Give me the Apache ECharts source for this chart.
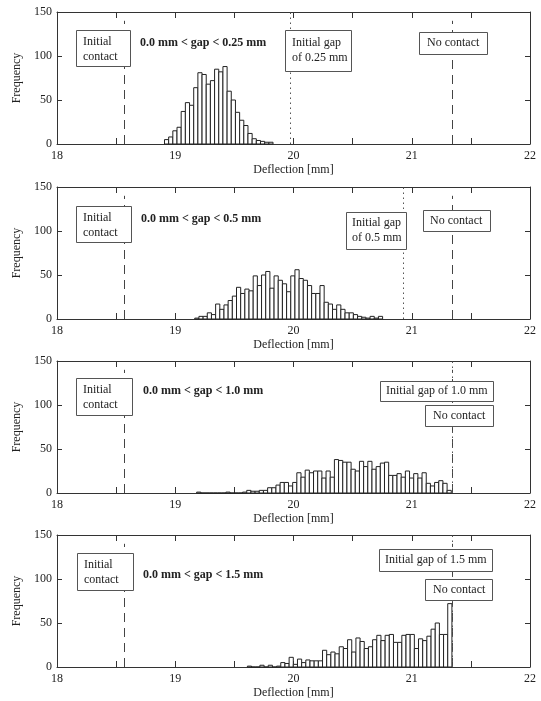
<!DOCTYPE html>
<html>
<head>
<meta charset="utf-8">
<script src="https://cdn.jsdelivr.net/npm/echarts@6/dist/echarts.min.js"></script>
<style>
  html, body { margin: 0; padding: 0; background: #fff; }
  #chart { width: 541px; height: 701px; }
</style>
</head>
<body>
<div id="chart"></div>
<script>
// ---------------- DATA ----------------
const binWidth = 0.0353;          // histogram bin width [mm]
const xTickValues = [18, 19, 20, 21, 22];
const yTickValues = [0, 50, 100, 150];

const panelTitles = [
  '0.0 mm < gap < 0.25 mm',
  '0.0 mm < gap < 0.5 mm',
  '0.0 mm < gap < 1.0 mm',
  '0.0 mm < gap < 1.5 mm'
];
const gapLabels = [
  ['Initial gap', 'of 0.25 mm'],
  ['Initial gap', 'of 0.5 mm'],
  ['Initial gap of 1.0 mm'],
  ['Initial gap of 1.5 mm']
];
const contactLabel = ['Initial', 'contact'];
const noContactLabel = 'No contact';

const initialContactX = 18.57;
const noContactX = 21.34;
const initialGapX = [19.976, 20.93, 21.34, 21.34];

const binStart1 = 18.909;
const counts1 = [5, 8, 15, 19, 37, 47, 44, 64, 81, 79, 68, 72, 85, 82, 88, 60, 50, 36, 27, 21, 12, 6, 4, 3, 2, 2];

const binStart2 = 19.165;
const counts2 = [1, 3, 3, 7, 5, 17, 11, 16, 21, 26, 36, 29, 34, 32, 49, 38, 50, 54, 35, 49, 44, 40, 31, 49, 56, 46, 44, 38, 29, 29, 38, 19, 17, 11, 16, 11, 7, 7, 5, 3, 2, 1, 3, 1, 3];

const binStart3 = 19.181;
const counts3 = [1, 0, 0, 0, 0, 0, 0, 1, 0, 0, 0,
  1, 3, 2, 2, 3, 3, 6, 6, 9, 12, 12, 8, 12, 23, 18, 26, 23, 25, 25, 17,
  25, 18, 38, 37, 35, 35, 27, 25, 36, 30, 36, 27, 30, 34, 35, 20, 20, 22, 18, 25,
  17, 22, 17, 23, 11, 8, 12, 14, 11, 3];

const binStart4 = 19.610;
const counts4 = [1, 0, 0, 2, 0, 2, 0, 1, 5, 4, 11, 3, 9, 5, 8, 7, 7, 7, 19, 14,
  17, 15, 23, 21, 31, 17, 33, 29, 21, 23, 31, 36, 30, 36, 37, 28, 28, 36, 37, 37,
  21, 32, 30, 35, 43, 50, 37, 37, 72];

const binStarts = [binStart1, binStart2, binStart3, binStart4];
const countsAll = [counts1, counts2, counts3, counts4];

// ---------------- LAYOUT ----------------
const FONT = '"Liberation Serif", "Times New Roman", serif';
const TXT = '#222';
const AX = '#333';
const gridTops = [12, 187, 361, 535];
const gridH = 132;
const gridLeft = 57, gridRight = 11;

const chart = echarts.init(document.getElementById('chart'), null, { renderer: 'canvas' });

const grids = [], xAxes = [], yAxes = [], series = [];
gridTops.forEach((t, i) => {
  grids.push({ left: gridLeft, right: gridRight, top: t, height: gridH, show: false });
  const common = { gridIndex: i, type: 'value', min: 18, max: 22, interval: 0.5, splitLine: { show: false } };
  xAxes.push(Object.assign({}, common, {
    position: 'bottom',
    axisLine: { show: true, onZero: false, lineStyle: { color: AX, width: 1 } },
    axisTick: { show: true, inside: true, length: 6, lineStyle: { color: AX } },
    axisLabel: {
      show: true, margin: 6, fontSize: 12, fontFamily: FONT, color: TXT,
      showMinLabel: true, showMaxLabel: true,
      formatter: v => (xTickValues.indexOf(v) >= 0 ? String(v) : '')
    },
    name: 'Deflection [mm]', nameLocation: 'middle', nameGap: 20,
    nameTextStyle: { fontSize: 12, fontFamily: FONT, color: TXT }
  }));
  xAxes.push(Object.assign({}, common, {
    position: 'top',
    axisLine: { show: true, onZero: false, lineStyle: { color: AX, width: 1 } },
    axisTick: { show: true, inside: true, length: 6, lineStyle: { color: AX } },
    axisLabel: { show: false }
  }));
  const ycommon = { gridIndex: i, type: 'value', min: 0, max: 150, interval: 50, splitLine: { show: false } };
  yAxes.push(Object.assign({}, ycommon, {
    position: 'left',
    axisLine: { show: true, onZero: false, lineStyle: { color: AX, width: 1 } },
    axisTick: { show: true, inside: true, length: 5, lineStyle: { color: AX } },
    axisLabel: {
      show: true, margin: 5, fontSize: 12, fontFamily: FONT, color: TXT,
      formatter: v => (yTickValues.indexOf(v) >= 0 ? String(v) : '')
    },
    name: 'Frequency', nameLocation: 'middle', nameGap: 32, nameRotate: 90,
    nameTextStyle: { fontSize: 12, fontFamily: FONT, color: TXT }
  }));
  yAxes.push(Object.assign({}, ycommon, {
    position: 'right',
    axisLine: { show: true, onZero: false, lineStyle: { color: AX, width: 1 } },
    axisTick: { show: true, inside: true, length: 5, lineStyle: { color: AX } },
    axisLabel: { show: false }
  }));

  // histogram bars
  const data = countsAll[i].map((c, k) => {
    const x0 = binStarts[i] + k * binWidth;
    return [x0, x0 + binWidth, c];
  });
  series.push({
    type: 'custom',
    xAxisIndex: 2 * i, yAxisIndex: 2 * i,
    data: data,
    encode: { x: [0, 1], y: 2 },
    z: 2,
    renderItem: (params, api) => {
      const p0 = api.coord([api.value(0), api.value(2)]);
      const p1 = api.coord([api.value(1), 0]);
      return {
        type: 'rect',
        shape: { x: p0[0], y: p0[1], width: p1[0] - p0[0], height: p1[1] - p0[1] },
        style: { fill: '#fff', stroke: '#222', lineWidth: 1 }
      };
    }
  });

  // reference lines
  series.push({
    type: 'line',
    xAxisIndex: 2 * i, yAxisIndex: 2 * i,
    data: [],
    z: 3,
    markLine: {
      silent: true, symbol: ['none', 'none'], animation: false,
      label: { show: false },
      data: [
        [{ coord: [initialContactX, 0], lineStyle: { type: [9, 6], color: '#444', width: 1 } }, { coord: [initialContactX, 140] }],
        [{ coord: [noContactX, 0], lineStyle: { type: [9, 6], color: '#444', width: 1 } }, { coord: [noContactX, 140] }],
        [{ coord: [initialGapX[i], 0], lineStyle: { type: [1.5, 3.5], color: '#555', width: 1 } }, { coord: [initialGapX[i], 150] }]
      ]
    }
  });
});

// ---------------- ANNOTATIONS ----------------
const graphics = [];
function box(x, y, w, h) {
  graphics.push({ type: 'rect', z: 100, shape: { x: x + 0.5, y: y + 0.5, width: w, height: h },
    style: { fill: '#fff', stroke: '#555', lineWidth: 1 } });
}
function text(x, y, s, bold) {
  graphics.push({ type: 'text', z: 101, x: x, y: y,
    style: { text: s, font: (bold ? 'bold ' : '') + '12px ' + FONT, fill: TXT, align: 'left', verticalAlign: 'middle' } });
}
const ann = [
  { ic: [76, 18, 54, 36, 83, 30], bold: [140, 31], gap: [285, 18, 66, 41, 292, 31, 15], nc: [419, 20, 68, 22, 427, 31] },
  { ic: [76, 19, 55, 36, 83, 31], bold: [141, 32], gap: [346, 25, 60, 37, 352, 36, 15], nc: [423, 23, 67, 21, 430, 33.5] },
  { ic: [76, 17, 56, 37, 83, 29], bold: [143, 30], gap: [380, 20, 113, 20, 386, 30, 15], nc: [425, 44, 68, 21, 433, 54.5] },
  { ic: [77, 18, 56, 37, 84, 30], bold: [143, 40], gap: [379, 14, 113, 22, 385, 25, 15], nc: [425, 44, 67, 21, 433, 54.5] }
];
ann.forEach((a, i) => {
  const t = gridTops[i];
  box(a.ic[0], t + a.ic[1], a.ic[2], a.ic[3]);
  contactLabel.forEach((s, j) => text(a.ic[4], t + a.ic[5] + 15 * j, s));
  text(a.bold[0], t + a.bold[1], panelTitles[i], true);
  box(a.gap[0], t + a.gap[1], a.gap[2], a.gap[3]);
  gapLabels[i].forEach((s, j) => text(a.gap[4], t + a.gap[5] + a.gap[6] * j, s));
  box(a.nc[0], t + a.nc[1], a.nc[2], a.nc[3]);
  text(a.nc[4], t + a.nc[5], noContactLabel);
});

chart.setOption({
  animation: false,
  backgroundColor: '#fff',
  grid: grids,
  xAxis: xAxes,
  yAxis: yAxes,
  series: series,
  graphic: graphics
});
</script>
</body>
</html>
